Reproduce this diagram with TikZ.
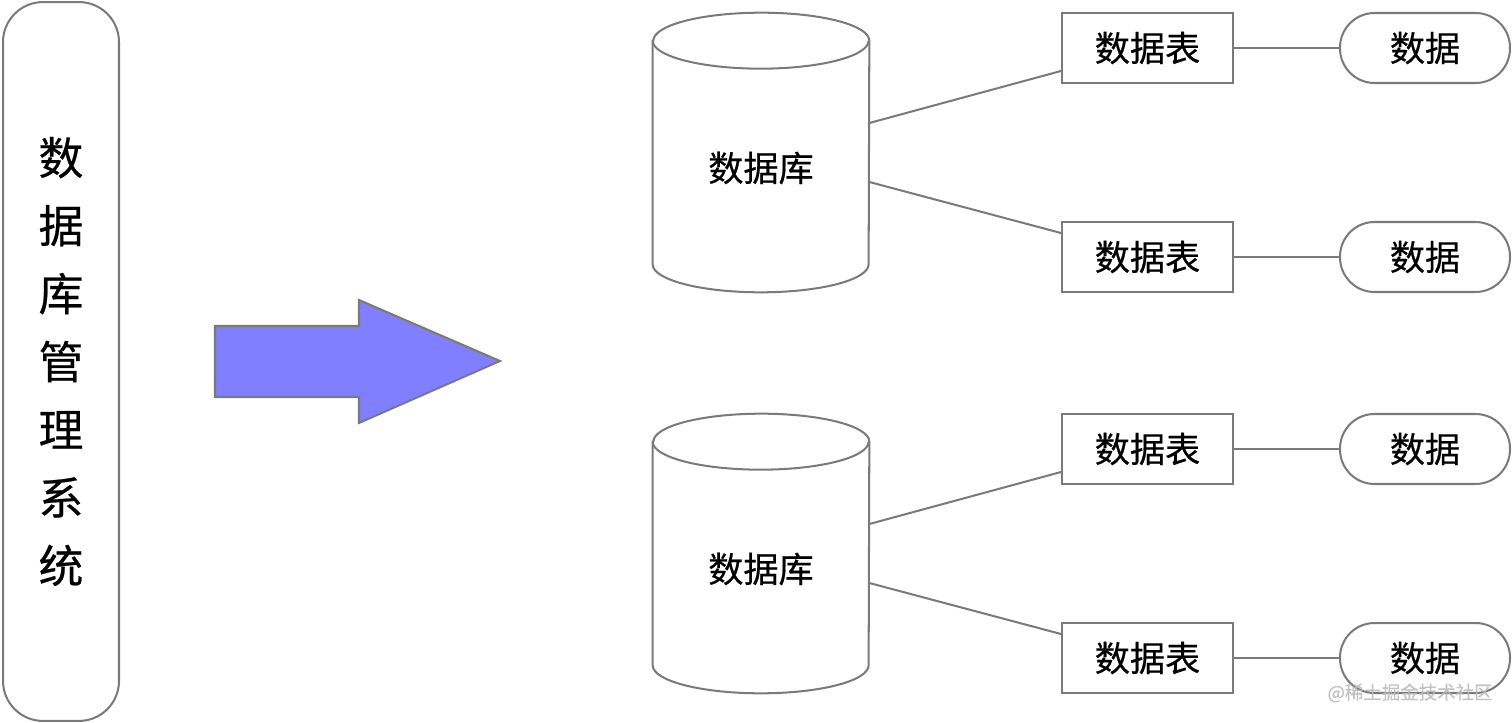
\documentclass[tikz,border=0pt]{standalone}
\usepackage{fontspec}
\setmainfont{Noto Sans CJK SC}[FakeBold=0.5]
\usepackage{tikz}
\usetikzlibrary{positioning, calc}
\definecolor{edge}{RGB}{122,122,122}
\definecolor{arrowblue}{RGB}{127,127,255}

\begin{document}
\begin{tikzpicture}[
  x=0.02cm, y=-0.02cm,
  font=\fontsize{20}{24}\selectfont,
  link/.style={draw=edge, line width=1.15pt},
  dbms/.style={link, rounded corners=0.8cm, minimum width=2.32cm,
    minimum height=14.38cm, align=center, inner sep=0pt,
    font=\fontsize{25.5}{38.7}\selectfont},
  dbbox/.style={minimum width=4.32cm, minimum height=5.58cm, inner sep=0pt},
  tbl/.style={link, minimum width=3.42cm, minimum height=1.4cm, inner sep=0pt},
  dat/.style={link, rounded corners=0.69cm, minimum width=3.4cm,
    minimum height=1.4cm, inner sep=0pt},
  bigarrow/.style={draw=edge, line width=1.15pt, fill=arrowblue, line join=miter},
]
  \useasboundingbox (0,0) rectangle (1512,723);

  % Management system (left column)
  \node[dbms] (sys) at (61,361.5) {数\\据\\库\\管\\理\\系\\统};

  % Big arrow
  \draw[bigarrow] (215,326) -- (359,326) -- (359,300) -- (500,361)
    -- (359,423) -- (359,397) -- (215,397) -- cycle;

  % Databases (cylinders)
  \foreach \i/\y in {1/152.5, 2/553.5} {
    \node[dbbox] (db\i) at (761,\y) {};
    \draw[link, fill=white] ($(db\i.north west)+(0,28)$) -- ($(db\i.south west)+(0,-28)$)
      arc[start angle=180, end angle=360, x radius=2.16cm, y radius=0.56cm]
      -- ($(db\i.north east)+(0,28)$)
      arc[start angle=0, end angle=180, x radius=2.16cm, y radius=0.56cm] -- cycle;
    \draw[link] ($(db\i.north west)+(0,28)$)
      arc[start angle=180, end angle=360, x radius=2.16cm, y radius=0.56cm];
    \node (dbl\i) at ($(db\i.center)+(0,15.5)$) {数据库};
  }

  % Tables and data
  \foreach \i/\y in {1/48, 2/257, 3/449, 4/658} {
    \node[tbl] (tb\i) at (1147.5,\y) {数据表};
    \node[dat] (dt\i) at (1425,\y) {数据};
    \draw[link] (tb\i) -- (dt\i);
  }

  % Database to table links
  \draw[link] ([yshift=0.59cm]db1.east) -- ([yshift=-0.46cm]tb1.west);
  \draw[link] ([yshift=-0.59cm]db1.east) -- ([yshift=0.48cm]tb2.west);
  \draw[link] ([yshift=0.59cm]db2.east) -- ([yshift=-0.46cm]tb3.west);
  \draw[link] ([yshift=-0.59cm]db2.east) -- ([yshift=0.48cm]tb4.west);

  % Watermark
  \node[text=gray!55, opacity=0.85, font=\fontsize{10.5}{12}\selectfont]
    (mark) at (1410,693) {@稀土掘金技术社区};
\end{tikzpicture}
\end{document}
